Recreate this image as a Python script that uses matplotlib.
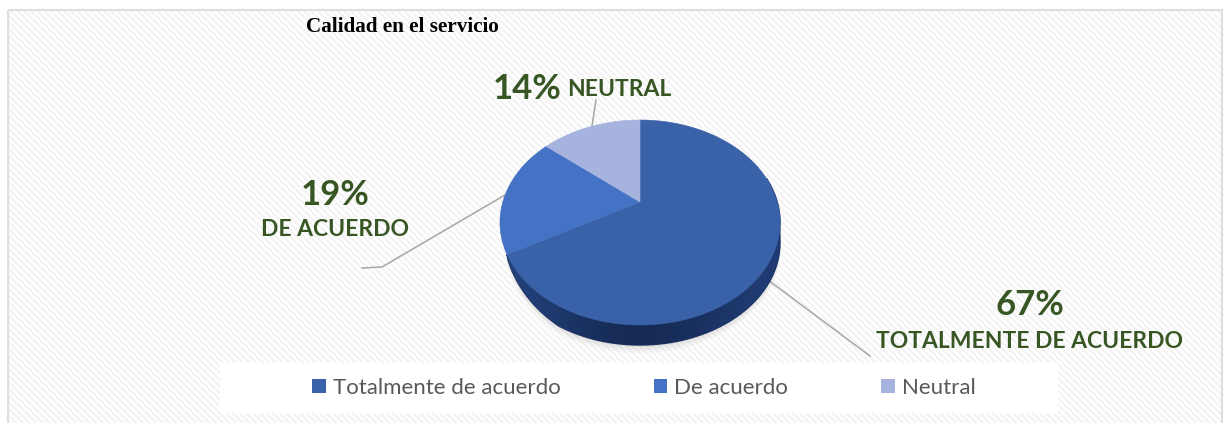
import numpy as np
import matplotlib
matplotlib.use('Agg')
import matplotlib.pyplot as plt
from matplotlib.patches import Rectangle, Patch, Polygon

plt.rcParams['hatch.linewidth'] = 1.6

categorias = ['Totalmente de acuerdo', 'De acuerdo', 'Neutral']
valores = [67, 19, 14]
colores = ['#3a62a8', '#4472c4', '#a5b3de']
etiquetas_pct = ['67%', '19%', '14%']
etiquetas_txt = ['TOTALMENTE DE ACUERDO', 'DE ACUERDO', 'NEUTRAL']
titulo = 'Calidad en el servicio'
verde = '#375623'

# pie centre and perspective, in pixels
cx, cy = 640, 202
a, b, k = 137.2, 98.4, 0.2
grosor = 20


def proyecta(theta):
    # theta measured clockwise from the top of the circle
    x, y = np.sin(theta), np.cos(theta)
    d = 1 + k * y
    return cx + a * x / d, cy - b * y / d


fig = plt.figure(figsize=(12.26, 4.23), dpi=100)
ax = fig.add_axes([0, 0, 1, 1])
ax.set_xlim(0, 1226)
ax.set_ylim(423, 0)
ax.axis('off')

# hatched background (hatch takes the edge colour), then the frame on top
ax.add_patch(Rectangle((8, 10), 1214, 420, fc='white', ec='#f3f3f3', lw=0, hatch='\\\\\\\\\\', zorder=0))
ax.add_patch(Rectangle((8, 10), 1214, 420, fc='none', ec='#dedede', lw=1.5, zorder=0.5))
ax.add_patch(Rectangle((220, 363), 838, 50, fc='white', ec='none', zorder=1))

# leader lines
linea = dict(color='#a6a6a6', lw=1.1, zorder=2)
ax.plot([505, 382, 362], [195, 267, 268], **linea)
ax.plot([592, 596], [126, 100], **linea)
ax.plot([768, 870], [280, 356], **linea)

acum = np.cumsum([0] + valores) / sum(valores) * 2 * np.pi

# pie side: thickness fades out towards the start of the second slice
th_lado = np.linspace(np.pi * 0.42, acum[1], 240)
sx, sy = proyecta(th_lado)
prof = grosor * np.clip((acum[1] - th_lado) / np.radians(32), 0, 1) ** 0.6
prof = prof * np.clip((th_lado - np.pi * 0.42) / np.radians(30), 0, 1) ** 0.6

# soft shadow below the pie
for i, al in zip([8, 5, 2], [0.05, 0.07, 0.10]):
    ax.fill(np.r_[sx, sx[::-1]], np.r_[sy, (sy + prof + i)[::-1]], color='#707070', alpha=al, lw=0, zorder=2)

# side with a light horizontal gradient
lado = ax.fill(np.r_[sx, sx[::-1]], np.r_[sy, (sy + prof)[::-1]], color='#1b3263', zorder=3)[0]
grad = np.array([[0.1, 0.7, 1.0, 0.7, 0.3]])
cmap = matplotlib.colors.LinearSegmentedColormap.from_list('lado', ['#24417c', '#142850'])
im = ax.imshow(grad, extent=[500, 780, 360, 200], cmap=cmap, aspect='auto', interpolation='bicubic', zorder=3.1)
im.set_clip_path(lado)
ax.set_xlim(0, 1226)
ax.set_ylim(423, 0)

# top face, clockwise from 12 o'clock
for i, col in enumerate(colores):
    th = np.linspace(acum[i], acum[i + 1], 120)
    px, py = proyecta(th)
    ax.add_patch(Polygon(np.column_stack([np.r_[cx, px], np.r_[cy, py]]), fc=col, ec=col, lw=0.4, zorder=4))

# data labels
fuente = 'Lato'
grande = dict(color=verde, fontsize=25, fontweight='bold', family=fuente, ha='center', va='center')
chico = dict(color=verde, fontsize=16.5, fontweight='bold', family=fuente, ha='center', va='center')
ax.text(1030, 305, etiquetas_pct[0], **grande)
ax.text(1030, 341, etiquetas_txt[0], **chico)
ax.text(335, 195, etiquetas_pct[1], **grande)
ax.text(335, 230, etiquetas_txt[1], **chico)
ax.text(527, 89, etiquetas_pct[2], **grande)
ax.text(619, 90, etiquetas_txt[2], **chico)

ax.text(306, 27, titulo, color='black', fontsize=15.2, fontweight='bold', family='Liberation Serif', ha='left', va='center')

# legend
manejadores = [Patch(fc=c, ec='none', label=n) for c, n in zip(colores, categorias)]
ley = ax.legend(handles=manejadores, ncol=3, loc='center', bbox_to_anchor=(644 / 1226, 1 - 388 / 423),
                frameon=False, handlelength=0.6, handleheight=0.6, handletextpad=0.32, columnspacing=4.2,
                prop={'family': 'Lato', 'size': 16}, labelcolor='#595959')
ley.set_zorder(5)

fig.savefig('out.png', dpi=100)
